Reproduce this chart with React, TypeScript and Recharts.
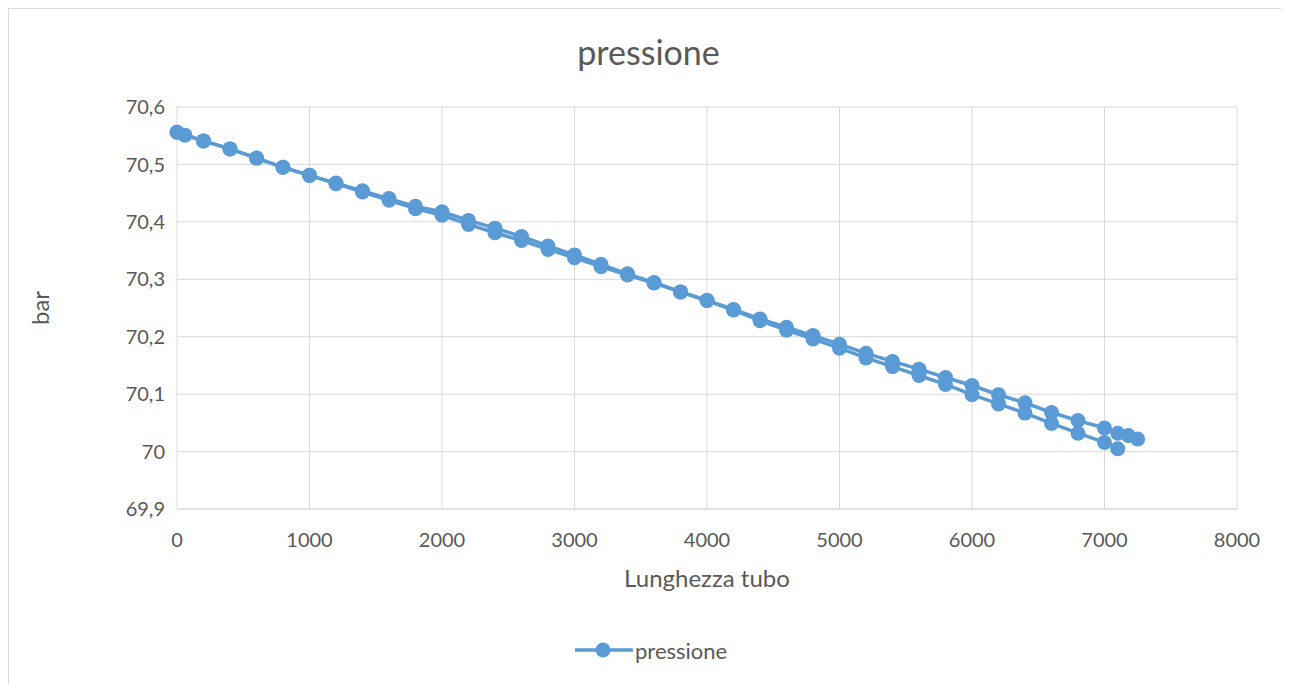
import { ScatterChart, Scatter, XAxis, YAxis, CartesianGrid, Label } from 'recharts'

// lunghezza tubo (m) and pressione (bar)
const lunghezzaA = [
  0, 200, 400, 600, 800, 1000, 1200, 1400, 1600, 1800, 2000, 2200, 2400, 2600, 2800, 3000, 3200, 3400, 3600,
  3800, 4000, 4200, 4400, 4600, 4800, 5000, 5200, 5400, 5600, 5800, 6000, 6200, 6400, 6600, 6800, 7000, 7100,
  7180, 7250,
]
const pressioneA = [
  70.556, 70.541, 70.527, 70.511, 70.495, 70.481, 70.4675, 70.454, 70.4405, 70.427, 70.4175, 70.4025, 70.389,
  70.3745, 70.358, 70.3425, 70.326, 70.3095, 70.2945, 70.278, 70.263, 70.2475, 70.231, 70.2165, 70.202, 70.187,
  70.171, 70.157, 70.1435, 70.129, 70.115, 70.099, 70.085, 70.068, 70.054, 70.041, 70.032, 70.028, 70.022,
]

const lunghezzaB = [
  0, 60, 200, 400, 600, 800, 1000, 1200, 1400, 1600, 1800, 2000, 2200, 2400, 2600, 2800, 3000, 3200, 3400, 3600,
  3800, 4000, 4200, 4400, 4600, 4800, 5000, 5200, 5400, 5600, 5800, 6000, 6200, 6400, 6600, 6800, 7000, 7100,
]
const pressioneB = [
  70.556, 70.551, 70.541, 70.527, 70.511, 70.495, 70.481, 70.4665, 70.452, 70.4375, 70.423, 70.4115, 70.3955,
  70.381, 70.3675, 70.352, 70.3375, 70.322, 70.3075, 70.2935, 70.278, 70.263, 70.2465, 70.228, 70.2115, 70.196,
  70.18, 70.163, 70.148, 70.1325, 70.117, 70.099, 70.083, 70.067, 70.049, 70.032, 70.016, 70.005,
]

const xTicks = [0, 1000, 2000, 3000, 4000, 5000, 6000, 7000, 8000]
const yTicks = [69.9, 70, 70.1, 70.2, 70.3, 70.4, 70.5, 70.6]

const dataA = lunghezzaA.map((x, i) => ({ x, y: pressioneA[i] }))
const dataB = lunghezzaB.map((x, i) => ({ x, y: pressioneB[i] }))

const BLUE = '#5B9BD5'
const TEXT = '#595959'
const FONT = 'Lato, "Open Sans", sans-serif'

const Dot = (props: any) => {
  if (props.cx == null || props.cy == null) return null
  return <circle cx={props.cx} cy={props.cy} r={7.5} fill={BLUE} />
}

export default function App() {
  return (
    <div
      style={{
        position: 'relative',
        width: '1273px',
        height: '680px',
        border: '1px solid #d9d9d9',
        borderBottom: 'none',
        background: '#fff',
        fontFamily: FONT,
      }}
    >
      {/* Title */}
      <div
        style={{
          position: 'absolute',
          top: '26px',
          left: '3px',
          width: '100%',
          textAlign: 'center',
          fontSize: '34px',
          lineHeight: '34px',
          color: TEXT,
        }}
      >
        pressione
      </div>

      <ScatterChart width={1273} height={671} margin={{ top: 98, right: 45, left: 8, bottom: 81 }}>
        <CartesianGrid stroke="#d9d9d9" strokeWidth={1} />
        <XAxis
          type="number"
          dataKey="x"
          domain={[0, 8000]}
          ticks={xTicks}
          interval={0}
          height={90}
          tickSize={0}
          tickMargin={24}
          tickLine={false}
          axisLine={{ stroke: '#d9d9d9' }}
          tick={{ fill: TEXT, fontSize: 20, fontFamily: FONT }}
        >
          <Label
            value="Lunghezza tubo"
            position="insideBottom"
            offset={12}
            style={{ fill: TEXT, fontSize: 24, fontFamily: FONT }}
          />
        </XAxis>
        <YAxis
          type="number"
          dataKey="y"
          domain={[69.9, 70.6]}
          ticks={yTicks}
          interval={0}
          width={160}
          tickSize={0}
          tickMargin={12}
          tickLine={false}
          axisLine={false}
          tickFormatter={(v: number) => String(v).replace('.', ',')}
          tick={{ fill: TEXT, fontSize: 20, fontFamily: FONT }}
        >
          <Label
            value="bar"
            angle={-90}
            position="insideLeft"
            offset={23}
            style={{ fill: TEXT, fontSize: 24, fontFamily: FONT, textAnchor: 'middle' }}
          />
        </YAxis>
        <Scatter
          data={dataA}
          line={{ stroke: BLUE, strokeWidth: 3.5 }}
          shape={<Dot />}
          fill={BLUE}
          isAnimationActive={false}
        />
        <Scatter
          data={dataB}
          line={{ stroke: BLUE, strokeWidth: 3.5 }}
          shape={<Dot />}
          fill={BLUE}
          isAnimationActive={false}
        />
      </ScatterChart>

      {/* Legend */}
      <div
        style={{
          position: 'absolute',
          top: '628px',
          left: '566px',
          display: 'flex',
          alignItems: 'center',
          height: '26px',
        }}
      >
        <svg width={58} height={20} style={{ display: 'block' }}>
          <line x1={1} y1={10} x2={57} y2={10} stroke={BLUE} strokeWidth={3.5} strokeLinecap="round" />
          <circle cx={28} cy={10} r={7.5} fill={BLUE} />
        </svg>
        <span style={{ fontSize: '22px', color: TEXT, marginLeft: '2px' }}>pressione</span>
      </div>
    </div>
  )
}
